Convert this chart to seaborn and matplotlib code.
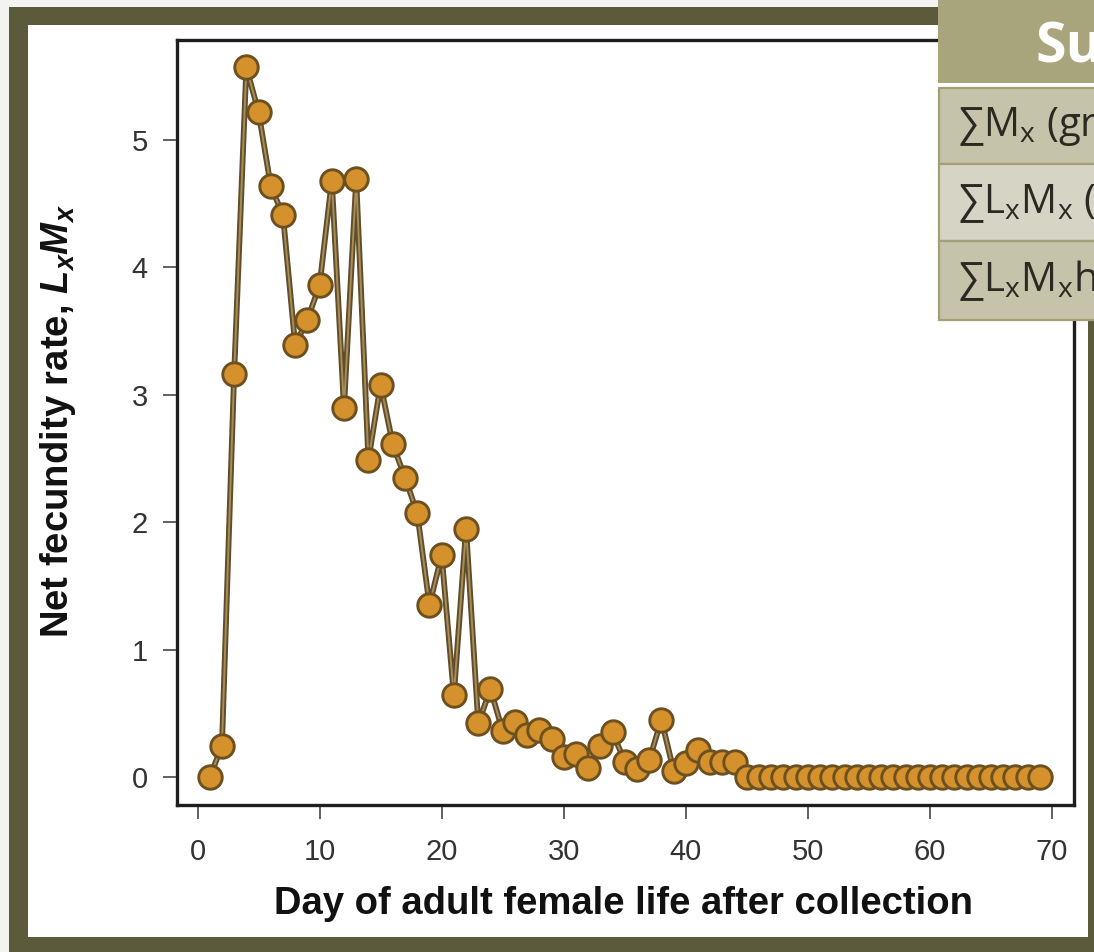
import matplotlib
matplotlib.use("Agg")
import matplotlib.pyplot as plt
from matplotlib.patches import Rectangle
import seaborn as sns

# Net fecundity schedule (L_x * M_x) by day of adult female life
days = list(range(1, 70))
lxmx = [0.00, 0.24, 3.16, 5.57, 5.22, 4.64, 4.41, 3.39, 3.59, 3.86,
        4.68, 2.90, 4.69, 2.49, 3.08, 2.61, 2.35, 2.07, 1.35, 1.74,
        0.64, 1.95, 0.42, 0.69, 0.36, 0.43, 0.33, 0.37, 0.30, 0.16,
        0.18, 0.07, 0.24, 0.35, 0.12, 0.06, 0.13, 0.45, 0.05, 0.11,
        0.21, 0.12, 0.12, 0.12] + [0.0] * 25

x_ticks = [0, 10, 20, 30, 40, 50, 60, 70]
y_ticks = [0, 1, 2, 3, 4, 5]

summary_title = "Summary"
summary_rows = ["∑M$_\\mathregular{x}$ (gross fecundity)",
                "∑L$_\\mathregular{x}$M$_\\mathregular{x}$ (net fecundity)",
                "∑L$_\\mathregular{x}$M$_\\mathregular{x}$h$_\\mathregular{x}$"]

sns.set_style("white")
plt.rcParams["font.family"] = ["Liberation Sans", "DejaVu Sans"]
plt.rcParams["mathtext.fontset"] = "custom"
plt.rcParams["mathtext.rm"] = "Liberation Sans"
plt.rcParams["mathtext.it"] = "Liberation Sans:italic"
plt.rcParams["mathtext.bf"] = "Liberation Sans:bold"
plt.rcParams["mathtext.bfit"] = "Liberation Sans:italic:bold"

W, H = 1094, 952
fig = plt.figure(figsize=(W / 100, H / 100), dpi=100, facecolor="#f3f3f1")


def fx(px):
    return px / W


def fy(py):
    return 1 - py / H


def frect(x0, y0, x1, y1, **kw):
    r = Rectangle((fx(x0), fy(y1)), fx(x1) - fx(x0), fy(y0) - fy(y1),
                  transform=fig.transFigure, **kw)
    fig.add_artist(r)
    return r


# olive frame and white panel behind the plot
frect(9, 7, 1094, 952, facecolor="#5b5a3b", edgecolor="none", zorder=-2)
frect(28, 25, 1088, 937, facecolor="white", edgecolor="none", zorder=-1)

ax = fig.add_axes([fx(177), fy(805), fx(1074) - fx(177), fy(40) - fy(805)])
ax.set_zorder(1)
ax.set_facecolor("white")

# line with dark rim and lighter core, then the markers on top
sns.lineplot(x=days, y=lxmx, ax=ax, color="#5f4d2b", lw=4.2, zorder=2)
sns.lineplot(x=days, y=lxmx, ax=ax, color="#a88d57", lw=1.4, zorder=3)
sns.scatterplot(x=days, y=lxmx, ax=ax, s=285, color="#d4912c",
                edgecolor="#6d5020", linewidth=2.1, zorder=4)

ax.set_xlim(-1.68, 71.8)
ax.set_ylim(-0.22, 5.785)
ax.set_xticks(x_ticks)
ax.set_yticks(y_ticks)
ax.set_xlabel("")
ax.set_ylabel("")
for s in ax.spines.values():
    s.set_visible(True)
    s.set_color("#1e1e1e")
    s.set_linewidth(2.4)
ax.tick_params(axis="both", which="major", direction="out", length=10,
               width=1.3, color="#555555", labelsize=21, labelcolor="#333333")
ax.tick_params(axis="x", pad=14, bottom=True)
ax.tick_params(axis="y", pad=11, left=True)

fig.text(fx(623), fy(904), "Day of adult female life after collection",
         ha="center", va="center", fontsize=27.5, fontweight="bold",
         color="#111111")
fig.text(fx(58), fy(421), "Net fecundity rate, $\\mathbfit{L_xM_x}$",
         ha="center", va="center", rotation=90, fontsize=27.5,
         fontweight="bold", color="#111111")

# summary table in the upper right corner
frect(938, 0, 1094, 83, facecolor="#a8a57c", edgecolor="none", zorder=5)
frect(938, 83, 1094, 88, facecolor="white", edgecolor="none", zorder=5)
row_bounds = [(88, 164), (164, 241), (241, 320)]
row_colors = ["#c5c3a9", "#d6d5c5", "#c5c3a9"]
for (y0, y1), c in zip(row_bounds, row_colors):
    frect(939, y0, 1096, y1, facecolor=c, edgecolor="#a39f77",
          linewidth=1.6, zorder=5)

tfont = ["Open Sans", "DejaVu Sans"]
fig.text(fx(1035), fy(62), summary_title, ha="left", va="baseline",
         fontsize=40, fontweight="bold", color="white", family=tfont,
         zorder=6)
for (y0, y1), label in zip(row_bounds, summary_rows):
    fig.text(fx(958), fy((y0 + y1) / 2), label, ha="left", va="center",
             fontsize=29, color="#2b2a22", family=tfont, zorder=6)

fig.savefig("out.png", dpi=100, facecolor=fig.get_facecolor())
